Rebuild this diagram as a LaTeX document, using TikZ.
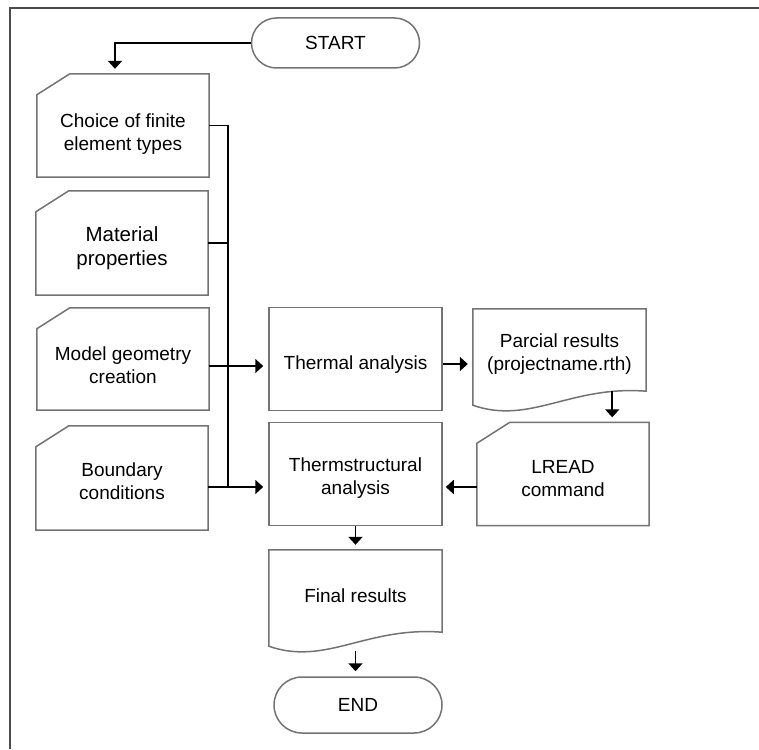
\documentclass[tikz,border=0pt]{standalone}
\usepackage{fontspec}
\setmainfont{Liberation Sans}
\usetikzlibrary{shapes.misc,arrows.meta,calc}

\newcommand{\lift}[1]{\rule{0pt}{#1pt}}

\tikzset{
  outline/.style={draw=black!55, line width=1.5pt},
  lowtext/.style={execute at begin node={\lift{24}}},
  box/.style={outline, align=center, inner sep=2pt},
  term/.style={box, rounded rectangle, minimum width=172pt, minimum height=50pt},
  card/.style={rectangle, lowtext, align=center, inner sep=2pt, minimum width=172pt, minimum height=103pt},
  proc/.style={box, lowtext, rectangle, minimum width=173pt, minimum height=103pt},
  docu/.style={rectangle, lowtext, align=center, inner sep=2pt, minimum width=173pt, minimum height=82pt},
  wire/.style={line width=1.8pt},
  arr/.style={wire, -{Triangle[length=8pt,width=14pt]}, shorten >=5pt}
}

\begin{document}
\begin{tikzpicture}
  [x=1pt,y=-1pt,font=\fontsize{19}{23}\selectfont]

  \useasboundingbox (0,0) rectangle (759,749);
  \draw[black!70, line width=1.6pt] (759,8) -- (10,8) -- (10,749);

  \node[term] (start) at (335.5,43) {START};
  \node[card] (choice) at (123,125.5) {\lift{30}Choice of finite\\element types};
  \node[card,minimum height=104pt,font=\fontsize{20.5}{24}\selectfont] (matprop) at (122,243) {\lift{26}Material\\properties};
  \node[card,minimum height=102pt] (geom) at (123,359) {\lift{26}Model geometry\\creation};
  \node[card,minimum height=104pt] (bound) at (122,478) {\lift{20}Boundary\\conditions};
  \node[proc] (thermal) at (355.5,359) {Thermal analysis};
  \node[proc] (thstruct) at (355.5,474) {\lift{22}Thermstructural\\analysis};
  \node[docu] (pres) at (559.5,350) {\lift{22}Parcial results\\(projectname.rth)};
  \node[card] (lread) at (563,474) {\lift{22}LREAD\\command};
  \node[docu] (fres) at (355.5,591) {Final results};
  \node[term,minimum height=56pt] (endn) at (358,705) {END};

  % card outlines with cut corner
  \foreach \c in {choice,matprop,geom,bound,lread}
    \draw[outline] ($(\c.north west)+(0,21)$) -- ($(\c.north west)+(33,0)$)
      -- (\c.north east) -- (\c.south east) -- (\c.south west) -- cycle;

  % document outlines with wavy bottom
  \foreach \d in {pres,fres}
    \draw[outline] (\d.north west) -- (\d.north east) -- (\d.south east)
      .. controls ($(\d.south east)+(-76,-6)$) and ($(\d.south west)+(57,34)$)
      .. ($(\d.south west)+(0,14)$) -- cycle;

  \coordinate (bustop) at (228,125.5);
  \coordinate (busbot) at (228,487);

  \draw[arr] (start.west) -| ([xshift=-8pt]choice.north);
  \draw[wire] (choice.east) -- (bustop) -- (busbot);
  \draw[wire] (matprop.east) -- (matprop.east -| bustop);
  \draw[arr] ($(geom.east)+(0,7)$) -- ($(thermal.west)+(0,7)$);
  \draw[wire] ($(bound.east)+(0,9)$) -- (busbot);
  \draw[arr] (busbot) -- (busbot -| thstruct.west);
  \draw[arr] ($(thermal.east)+(0,5)$) -- ($(pres.west)+(0,14)$);
  \draw[arr] ($(pres.south east)+(-34,0)$) -- ($(lread.north east)+(-37,0)$);
  \draw[arr,shorten >=3pt] ($(lread.west)+(0,13)$) -- ($(thstruct.east)+(0,13)$);
  \draw[arr] (thstruct.south) -- (fres.north);
  \draw[arr] ($(fres.south)+(0,19)$) -- (fres.south |- endn.north);
\end{tikzpicture}
\end{document}
